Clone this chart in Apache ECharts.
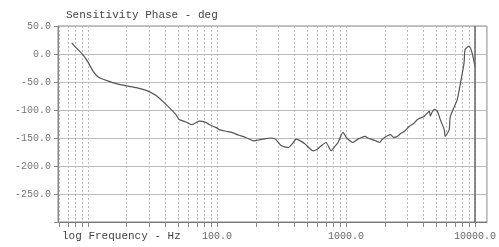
<!DOCTYPE html>
<html><head><meta charset="utf-8">
<script src="https://cdn.jsdelivr.net/npm/echarts@6/dist/echarts.min.js"></script>
<style>html,body{margin:0;padding:0;background:#fff}#c{width:499px;height:247px}</style>
</head><body><div id="c"></div>
<script>
const freqHz = [7.5, 8.2, 9.2, 10, 11, 12, 13.9, 16.6, 19.9, 23.7, 28.3, 33.8, 40.3, 48, 51, 57, 64, 73, 82, 87, 98, 104, 118, 130, 148, 167, 193, 215, 238, 260, 284, 316, 358, 385, 412, 450, 484, 520, 557, 600, 642, 701, 767, 820, 868, 948, 1000, 1036, 1132, 1237, 1320, 1400, 1480, 1557, 1700, 1827, 1900, 1995, 2100, 2219, 2350, 2512, 2650, 2844, 3106, 3350, 3579, 3800, 4055, 4250, 4426, 4508, 4650, 4839, 5102, 5380, 5778, 5878, 6310, 6435, 7270, 7674, 8226, 8380, 8990, 9487, 10000];
const phaseDeg = [20, 10, -2, -14, -31, -41, -47, -53, -57, -60, -65, -74, -90, -108, -117, -121, -126, -120, -122, -126, -131, -135, -138, -140, -145, -149, -155, -153, -151, -150, -152, -164, -167, -160, -152, -156, -161, -168, -173, -170, -164, -158, -173, -165, -158, -140, -148, -152, -158, -152, -149, -147, -150, -152, -155, -158, -153, -149, -146, -144, -149, -147, -142, -138, -129, -124, -117, -114, -111, -106, -102, -111, -104, -99, -102, -117, -135, -147, -135, -112, -82, -55, -16, 8, 14, 2, -23];
const xGridValues = [6, 7, 8, 9, 10, 20, 30, 40, 50, 60, 70, 80, 90, 100, 200, 300, 400, 500, 600, 700, 800, 900, 1000, 2000, 3000, 4000, 5000, 6000, 7000, 8000, 9000, 10000];
const xLabelValues = [100, 1000, 10000];
const xMin = 5.87, xMax = 12370;
const yMin = -300, yMax = 50, yStep = 50;
const titleText = 'Sensitivity Phase - deg';
const xAxisTitle = 'log Frequency - Hz';

const font = 'Liberation Mono';
const chart = echarts.init(document.getElementById('c'), null, {renderer: 'canvas'});
chart.setOption({
  animation: false,
  backgroundColor: '#fff',
  title: {text: titleText, left: 61, top: 5, textStyle: {fontFamily: font, fontSize: 11, fontWeight: 'normal', color: '#444'}},
  grid: {left: 58, right: 9, top: 26, bottom: 25, show: true, borderColor: '#888', borderWidth: 1},
  graphic: [{type: 'text', left: 62, top: 231, style: {text: xAxisTitle, fontFamily: font, fontSize: 11, fill: '#444'}}],
  xAxis: {
    type: 'log', logBase: 10, min: xMin, max: xMax,
    axisLine: {show: true, onZero: false, lineStyle: {color: '#777'}},
    axisTick: {show: true, inside: false, length: 5, lineStyle: {color: '#888'}, customValues: xGridValues},
    axisLabel: {customValues: xLabelValues, formatter: v => Number(v).toFixed(1), fontFamily: font, fontSize: 10, color: '#666', margin: 9},
    splitLine: {show: true, lineStyle: {color: '#bbb', type: [2, 2], width: 1}},
    minorTick: {show: false}, minorSplitLine: {show: false}
  },
  yAxis: {
    type: 'value', min: yMin, max: yMax, interval: yStep,
    axisLine: {show: true, lineStyle: {color: '#888'}},
    axisTick: {show: true, length: 4, lineStyle: {color: '#888'}},
    axisLabel: {formatter: v => v === yMin ? '' : v.toFixed(1), fontFamily: font, fontSize: 10, color: '#777', margin: 7},
    splitLine: {show: true, lineStyle: {color: '#bbb', width: 1}}
  },
  series: [{
    type: 'line', data: freqHz.map((f, i) => [f, phaseDeg[i]]),
    showSymbol: false, smooth: 0.2,
    lineStyle: {color: '#555', width: 1.2},
    markLine: {silent: true, symbol: 'none', label: {show: false},
      lineStyle: {color: '#666', type: 'solid', width: 1.5},
      data: [{xAxis: 10000}]}
  }]
});
</script></body></html>
